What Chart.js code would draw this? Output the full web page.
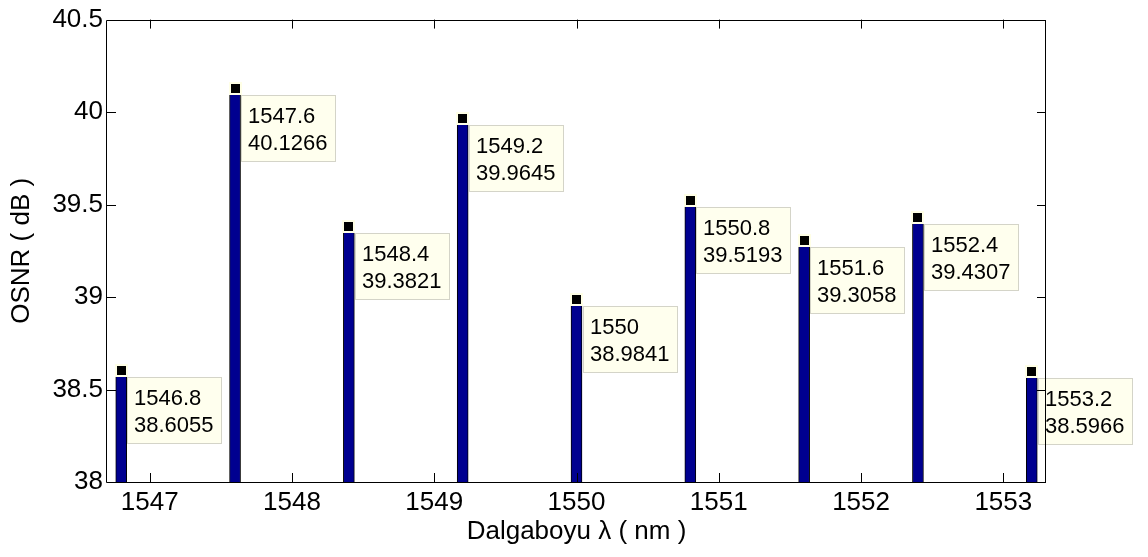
<!DOCTYPE html>
<html>
<head>
<meta charset="utf-8">
<script src="https://cdn.jsdelivr.net/npm/chart.js@4.4.1/dist/chart.umd.min.js"></script>
<style>
  html, body { margin: 0; padding: 0; background: #ffffff; }
  #wrap { width: 1148px; height: 557px; position: relative; }
  canvas { display: block; }
</style>
</head>
<body>
<div id="wrap"><canvas id="osnrChart" width="1148" height="557"></canvas></div>
<script>
// Channel wavelengths (nm) and measured OSNR (dB)
const wavelengths = [1546.8, 1547.6, 1548.4, 1549.2, 1550, 1550.8, 1551.6, 1552.4, 1553.2];
const osnrValues  = [38.6055, 40.1266, 39.3821, 39.9645, 38.9841, 39.5193, 39.3058, 39.4307, 38.5966];

// Axis limits and tick labels
const xLimits = [1546.7, 1553.3];
const yLimits = [38, 40.5];
const xTickValues = [1547, 1548, 1549, 1550, 1551, 1552, 1553];
const yTickValues = [38, 38.5, 39, 39.5, 40, 40.5];

const FONT = "'Liberation Sans', Arial, Helvetica, sans-serif";
Chart.defaults.font.family = FONT;
Chart.defaults.color = '#000000';

// Box around the plot with inward ticks on all four sides
const framePlugin = {
  id: 'frame',
  afterDraw(chart) {
    const { ctx, chartArea: a, scales: { x, y } } = chart;
    const len = 9;
    ctx.save();
    ctx.strokeStyle = '#000000';
    ctx.lineWidth = 1;
    ctx.beginPath();
    ctx.rect(Math.round(a.left) - 0.5, Math.round(a.top) + 0.5,
             Math.round(a.right - a.left), Math.round(a.bottom - a.top));
    x.ticks.forEach(t => {
      const px = Math.round(x.getPixelForValue(t.value)) + 0.5;
      ctx.moveTo(px, a.bottom); ctx.lineTo(px, a.bottom - len);
      ctx.moveTo(px, a.top);    ctx.lineTo(px, a.top + len);
    });
    y.ticks.forEach(t => {
      const py = Math.round(y.getPixelForValue(t.value)) + 0.5;
      ctx.moveTo(a.left, py);  ctx.lineTo(a.left + len, py);
      ctx.moveTo(a.right, py); ctx.lineTo(a.right - len, py);
    });
    ctx.stroke();
    ctx.restore();
  }
};

// Data-tip style annotations: marker on each bar top plus a label box
const dataTipPlugin = {
  id: 'dataTips',
  afterDatasetsDraw(chart) {
    const { ctx, scales: { x, y } } = chart;
    const pts = chart.data.datasets[0].data;
    ctx.save();
    ctx.font = '22px ' + FONT;
    ctx.textBaseline = 'alphabetic';
    pts.forEach(p => {
      const px = x.getPixelForValue(p.x);
      const py = y.getPixelForValue(p.y);
      // marker
      ctx.fillStyle = '#FFFFE6';
      ctx.fillRect(Math.round(px - 6.5), Math.round(py - 6.5), 13, 13);
      ctx.fillStyle = '#000000';
      ctx.fillRect(Math.round(px - 4.5), Math.round(py - 4.5), 9, 9);
      // label box
      const l1 = String(p.x), l2 = String(p.y);
      const tw = Math.max(ctx.measureText(l1).width, ctx.measureText(l2).width);
      const bx = Math.round(px + 6), by = Math.round(py + 6.5);
      const bw = Math.round(tw + 15), bh = 67;
      ctx.fillStyle = '#FFFFEE';
      ctx.fillRect(bx, by, bw, bh);
      ctx.strokeStyle = '#D4D4C8';
      ctx.lineWidth = 1;
      ctx.strokeRect(bx + 0.5, by + 0.5, bw - 1, bh - 1);
      ctx.fillStyle = '#000000';
      ctx.textAlign = 'left';
      ctx.fillText(l1, bx + 7, by + 27.5);
      ctx.fillText(l2, bx + 7, by + 54.5);
    });
    ctx.restore();
  }
};

new Chart(document.getElementById('osnrChart'), {
  type: 'bar',
  data: {
    datasets: [{
      data: wavelengths.map((w, i) => ({ x: w, y: osnrValues[i] })),
      backgroundColor: '#000090',
      borderColor: '#000000',
      borderWidth: 1,
      borderSkipped: 'start',
      barThickness: 11,
      base: yLimits[0],
      grouped: false
    }]
  },
  options: {
    responsive: false,
    animation: false,
    devicePixelRatio: 1,
    layout: { padding: { left: 0, top: 14, right: 102, bottom: 0 } },
    plugins: { legend: { display: false }, tooltip: { enabled: false } },
    scales: {
      x: {
        type: 'linear',
        min: xLimits[0], max: xLimits[1],
        offset: false,
        grid: { display: false, drawTicks: false },
        border: { display: false },
        afterBuildTicks: s => { s.ticks = xTickValues.map(v => ({ value: v })); },
        afterFit: s => { s.height = 75; },
        ticks: { font: { size: 26 }, padding: 5, maxRotation: 0, autoSkip: false, callback: v => String(v) },
        title: { display: true, text: 'Dalgaboyu λ ( nm )', font: { size: 26 }, padding: { top: 0, bottom: 10 } }
      },
      y: {
        type: 'linear',
        min: yLimits[0], max: yLimits[1],
        grid: { display: false, drawTicks: false },
        border: { display: false },
        afterBuildTicks: s => { s.ticks = yTickValues.map(v => ({ value: v })); },
        afterFit: s => { s.width = 107; },
        ticks: { font: { size: 26 }, padding: 4, autoSkip: false, callback: v => String(v) },
        title: { display: true, text: 'OSNR ( dB )', font: { size: 26 }, padding: { top: 6, bottom: 0 } }
      }
    }
  },
  plugins: [framePlugin, dataTipPlugin]
});
</script>
</body>
</html>
